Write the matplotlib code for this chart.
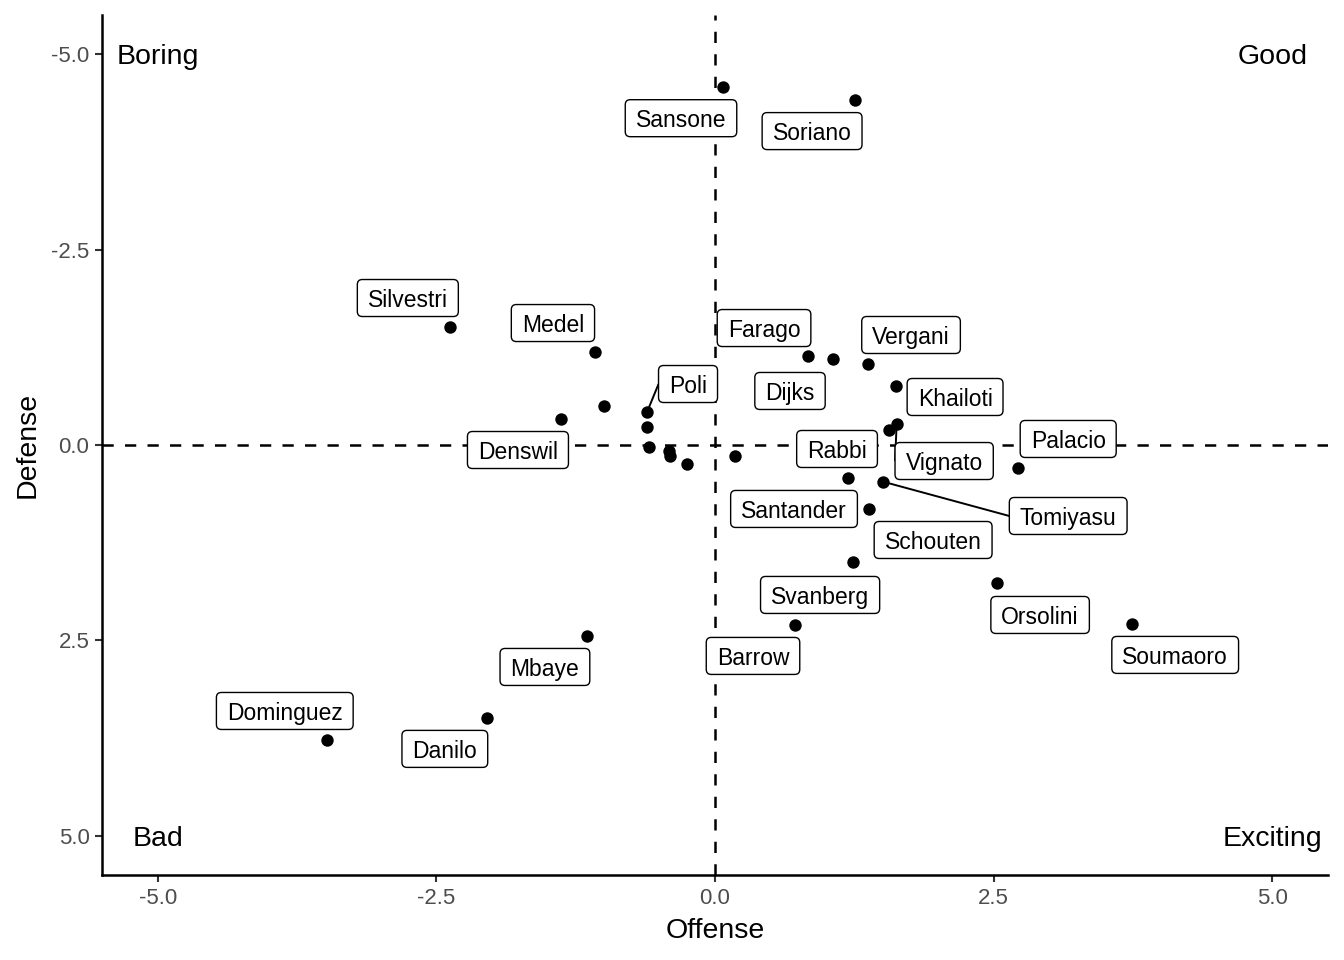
import matplotlib
matplotlib.use("Agg")
import matplotlib.pyplot as plt
from matplotlib.patches import FancyBboxPatch
from matplotlib.lines import Line2D
from matplotlib.transforms import IdentityTransform

plt.rcParams['font.family'] = ['Liberation Sans', 'DejaVu Sans']

# ---- data ----
names = ["Sansone", "Soriano", "Silvestri", "Medel", "", "Denswil", "Poli", "", "", "",
         "", "", "", "Farago", "Dijks", "Vergani", "Khailoti", "Rabbi", "Vignato", "Palacio",
         "Santander", "Tomiyasu", "Schouten", "Svanberg", "Orsolini", "Soumaoro", "Barrow",
         "Mbaye", "Danilo", "Dominguez"]
offense = [0.07, 1.26, -2.38, -1.08, -1.00, -1.38, -0.61, -0.61, -0.59, -0.41,
           -0.40, -0.25, 0.18, 0.83, 1.06, 1.37, 1.62, 1.56, 1.63, 2.72,
           1.19, 1.51, 1.38, 1.24, 2.53, 3.74, 0.72, -1.15, -2.05, -3.48]
defense = [-4.58, -4.41, -1.51, -1.19, -0.50, -0.33, -0.42, -0.23, 0.03, 0.08,
           0.14, 0.24, 0.14, -1.14, -1.10, -1.04, -0.75, -0.19, -0.27, 0.29,
           0.42, 0.47, 0.82, 1.50, 1.76, 2.29, 2.30, 2.44, 3.49, 3.77]

quadrant_labels = ["Boring", "Good", "Bad", "Exciting"]
quadrant_x = [-5, 5, -5, 5]
quadrant_y = [-5, -5, 5, 5]
x_ticks = [-5.0, -2.5, 0.0, 2.5, 5.0]
y_ticks = [-5.0, -2.5, 0.0, 2.5, 5.0]

# repelled label placement (layout, data units)
label_pos = {
    "Sansone": (-0.305, -4.18), "Soriano": (0.871, -4.015), "Silvestri": (-2.756, -1.88),
    "Medel": (-1.454, -1.56), "Denswil": (-1.768, 0.064), "Poli": (-0.242, -0.78),
    "Farago": (0.440, -1.496), "Dijks": (0.673, -0.691), "Vergani": (1.759, -1.407),
    "Khailoti": (2.154, -0.614), "Rabbi": (1.095, 0.051), "Vignato": (2.056, 0.205),
    "Palacio": (3.169, -0.077), "Santander": (0.709, 0.818), "Tomiyasu": (3.169, 0.908),
    "Schouten": (1.957, 1.215), "Svanberg": (0.943, 1.918), "Orsolini": (2.917, 2.174),
    "Soumaoro": (4.129, 2.685), "Barrow": (0.341, 2.698), "Mbaye": (-1.526, 2.839),
    "Danilo": (-2.424, 3.887), "Dominguez": (-3.860, 3.402),
}
with_segment = {"Poli", "Vignato", "Tomiyasu"}

# ---- figure ----
fig = plt.figure(figsize=(13.44, 9.6), dpi=100)
ax = fig.add_axes([102/1344, 1-875/960, (1328-102)/1344, (875-15)/960])

ax.set_xlim(-5.5, 5.5)
ax.set_ylim(5.5, -5.5)

dash = (0, (4.5, 4.5))
ax.axvline(0, color="black", lw=1.8, ls=dash, zorder=1)
ax.axhline(0, color="black", lw=1.8, ls=dash, zorder=1)

ax.scatter(offense, defense, s=80, color="black", zorder=2, linewidths=0)

labels = []
for n, x, y in zip(names, offense, defense):
    if not n:
        continue
    lx, ly = label_pos[n]
    t = ax.text(lx, ly, n, ha="center", va="center_baseline", fontsize=16.5,
                color="black", zorder=6)
    labels.append((n, x, y, lx, ly, t))

for lab, qx, qy in zip(quadrant_labels, quadrant_x, quadrant_y):
    ax.text(qx, qy, lab, ha="center", va="center_baseline", fontsize=20.5,
            color="black", zorder=6)

ax.set_xticks(x_ticks)
ax.set_xticklabels([f"{v:.1f}" for v in x_ticks])
ax.set_yticks(y_ticks)
ax.set_yticklabels([f"{v:.1f}" for v in y_ticks])
ax.tick_params(axis="both", labelsize=16, labelcolor="#4D4D4D", color="#333333",
               length=5, width=1.5, pad=4)
for s in ["top", "right"]:
    ax.spines[s].set_visible(False)
for s in ["left", "bottom"]:
    ax.spines[s].set_linewidth(1.8)
ax.set_xlabel("Offense", fontsize=20.5, labelpad=7)
ax.set_ylabel("Defense", fontsize=20.5, labelpad=8)

# rounded label boxes and repel-style segments
fig.canvas.draw()
r = fig.canvas.get_renderer()
padx, box_h = 10.5, 37
for n, x, y, lx, ly, t in labels:
    bb = t.get_window_extent(r)
    cx, cy = ax.transData.transform((lx, ly))
    w = bb.width + 2 * padx
    x0, y0 = cx - w / 2, cy - box_h / 2
    p = FancyBboxPatch((x0, y0), w, box_h,
                       boxstyle="round,pad=0,rounding_size=5", transform=IdentityTransform(),
                       facecolor="white", edgecolor="black", lw=1.0, zorder=5)
    ax.add_artist(p)
    if n in with_segment:
        px, py = ax.transData.transform((x, y))
        cands = [(x0, cy), (x0 + w, cy), (cx, y0), (cx, y0 + box_h)]
        ex, ey = min(cands, key=lambda c: (c[0] - px) ** 2 + (c[1] - py) ** 2)
        seg = Line2D([px, ex], [py, ey], color="black", lw=1.4, zorder=3,
                     transform=IdentityTransform(), solid_capstyle="butt")
        ax.add_artist(seg)

fig.savefig("out.png", dpi=100)
